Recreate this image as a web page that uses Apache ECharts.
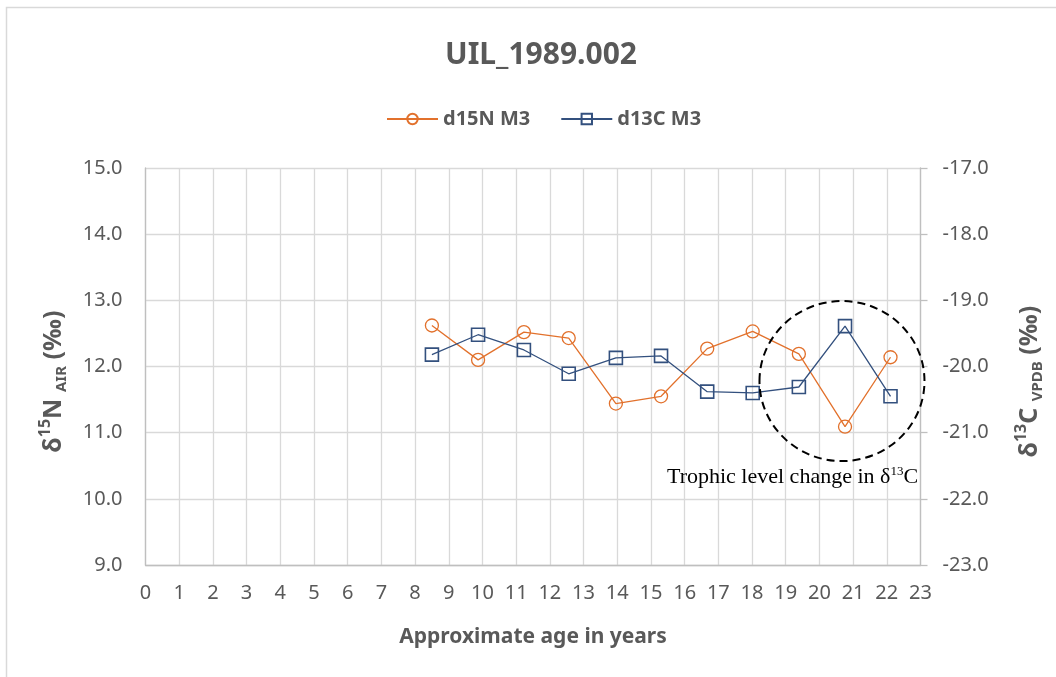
<!DOCTYPE html>
<html>
<head>
<meta charset="utf-8">
<script src="https://cdn.jsdelivr.net/npm/echarts@6/dist/echarts.min.js"></script>
<style>
html, body { margin: 0; padding: 0; background: #fff; }
#main { width: 1056px; height: 677px; }
</style>
</head>
<body>
<div id="main"></div>
<script>
// ages (x) and the two isotope series
var ages = [8.50, 9.87, 11.23, 12.56, 13.96, 15.30, 16.67, 18.02, 19.39, 20.76, 22.11];
var d15N = [12.62, 12.10, 12.52, 12.43, 11.44, 11.55, 12.27, 12.53, 12.19, 11.09, 12.14];
var d13C = [-19.82, -19.52, -19.75, -20.11, -19.87, -19.84, -20.38, -20.40, -20.31, -19.39, -20.45];
var seriesNames = ['d15N M3', 'd13C M3'];
// annotation: circle centre in data units (age, d15N scale)
var noteCentre = [20.67, 11.78];

var grey = '#595959';
var gridGrey = '#d9d9d9';
var orange = '#E2712C';
var navy = '#33507E';
var font = 'Noto Sans';

function pairs(xs, ys) {
    return xs.map(function (x, i) { return [x, ys[i]]; });
}

var nameRich = {
    b: { fontSize: 25, fontWeight: 'bold', color: grey, fontFamily: font, lineHeight: 32 },
    sup: { fontSize: 16, fontWeight: 'bold', color: grey, fontFamily: font, lineHeight: 16, verticalAlign: 'top' },
    sub: { fontSize: 15, fontWeight: 'bold', color: grey, fontFamily: font, lineHeight: 15, verticalAlign: 'bottom' }
};

var chart = echarts.init(document.getElementById('main'));
var option = {
    backgroundColor: '#fff',
    animation: false,
    textStyle: { fontFamily: font },
    title: {
        text: 'UIL_1989.002',
        left: 536,
        textAlign: 'center',
        top: 35,
        textStyle: { fontSize: 30, fontWeight: 'bold', color: grey, fontFamily: font }
    },
    legend: {
        data: seriesNames,
        left: 381,
        top: 104,
        itemWidth: 51,
        itemHeight: 13,
        itemGap: 30,
        textStyle: { fontSize: 20, fontWeight: 'bold', color: grey, fontFamily: font }
    },
    grid: { left: 145.5, right: 135.5, top: 168, bottom: 112 },
    xAxis: {
        type: 'value',
        min: 0,
        max: 23,
        interval: 1,
        name: 'Approximate age in years',
        nameLocation: 'middle',
        nameGap: 62,
        nameTextStyle: { fontSize: 21, fontWeight: 'bold', color: grey, fontFamily: font },
        axisLine: { lineStyle: { color: '#bfbfbf', width: 1.3 } },
        axisTick: { show: false },
        axisLabel: { fontSize: 20, color: grey, margin: 18 },
        splitLine: { show: true, lineStyle: { color: gridGrey, width: 1.3 } }
    },
    yAxis: [
        {
            type: 'value',
            min: 9,
            max: 15,
            interval: 1,
            position: 'left',
            name: '{b|δ}{sup|15}{b|N }{sub|AIR}{b| (‰)}',
            nameLocation: 'middle',
            nameRotate: 90,
            nameGap: 76,
            nameTextStyle: { rich: nameRich, padding: [0, 30, 0, 0] },
            axisLine: { show: true, lineStyle: { color: '#bfbfbf', width: 1.3 } },
            axisTick: { show: false },
            axisLabel: {
                fontSize: 20, color: grey, margin: 23,
                formatter: function (v) { return v.toFixed(1); }
            },
            splitLine: { show: true, lineStyle: { color: gridGrey, width: 1.3 } }
        },
        {
            type: 'value',
            min: -23,
            max: -17,
            interval: 1,
            position: 'right',
            name: '{b|δ}{sup|13}{b|C }{sub|VPDB}{b| (‰)}',
            nameLocation: 'middle',
            nameRotate: 90,
            nameGap: 93,
            nameTextStyle: { rich: nameRich, padding: [0, 30, 0, 0] },
            axisLine: { show: true, lineStyle: { color: '#bfbfbf', width: 1.3 } },
            axisTick: { show: true, length: 7, lineStyle: { color: '#bfbfbf', width: 1.3 } },
            axisLabel: {
                fontSize: 20, color: grey, margin: 22,
                formatter: function (v) { return v.toFixed(1); }
            },
            splitLine: { show: false }
        }
    ],
    series: [
        {
            name: seriesNames[0],
            type: 'line',
            yAxisIndex: 0,
            symbol: 'circle',
            symbolSize: 13,
            lineStyle: { color: orange, width: 1.3 },
            itemStyle: { color: 'transparent', borderColor: orange, borderWidth: 1.3 },
            data: pairs(ages, d15N)
        },
        {
            name: seriesNames[1],
            type: 'line',
            yAxisIndex: 1,
            symbol: 'rect',
            symbolSize: 13,
            lineStyle: { color: navy, width: 1.3 },
            itemStyle: { color: 'transparent', borderColor: navy, borderWidth: 1.6 },
            data: pairs(ages, d13C)
        }
    ]
};
chart.setOption(option);

// dashed circle and its note, plus the outer chart frame
var c = chart.convertToPixel({ xAxisIndex: 0, yAxisIndex: 0 }, noteCentre);
chart.setOption({
    graphic: [
        {
            type: 'rect',
            shape: { x: 6.5, y: 7.5, width: 1100, height: 700 },
            style: { fill: 'none', stroke: gridGrey, lineWidth: 1.5 },
            silent: true
        },
        {
            type: 'ellipse',
            shape: { cx: c[0], cy: c[1], rx: 82.5, ry: 80 },
            style: { fill: 'none', stroke: '#000', lineWidth: 2, lineDash: [8, 5] },
            z: 10,
            silent: true
        },
        {
            type: 'text',
            x: 667,
            y: 477,
            style: {
                text: '{a|Trophic level change in δ}{s|13}{a|C}',
                rich: {
                    a: { fontFamily: 'Liberation Serif', fontSize: 22, fill: '#000', lineHeight: 24 },
                    s: { fontFamily: 'Liberation Serif', fontSize: 13, fill: '#000', lineHeight: 14, verticalAlign: 'top' }
                },
                verticalAlign: 'middle'
            },
            z: 10,
            silent: true
        }
    ]
});
</script>
</body>
</html>
